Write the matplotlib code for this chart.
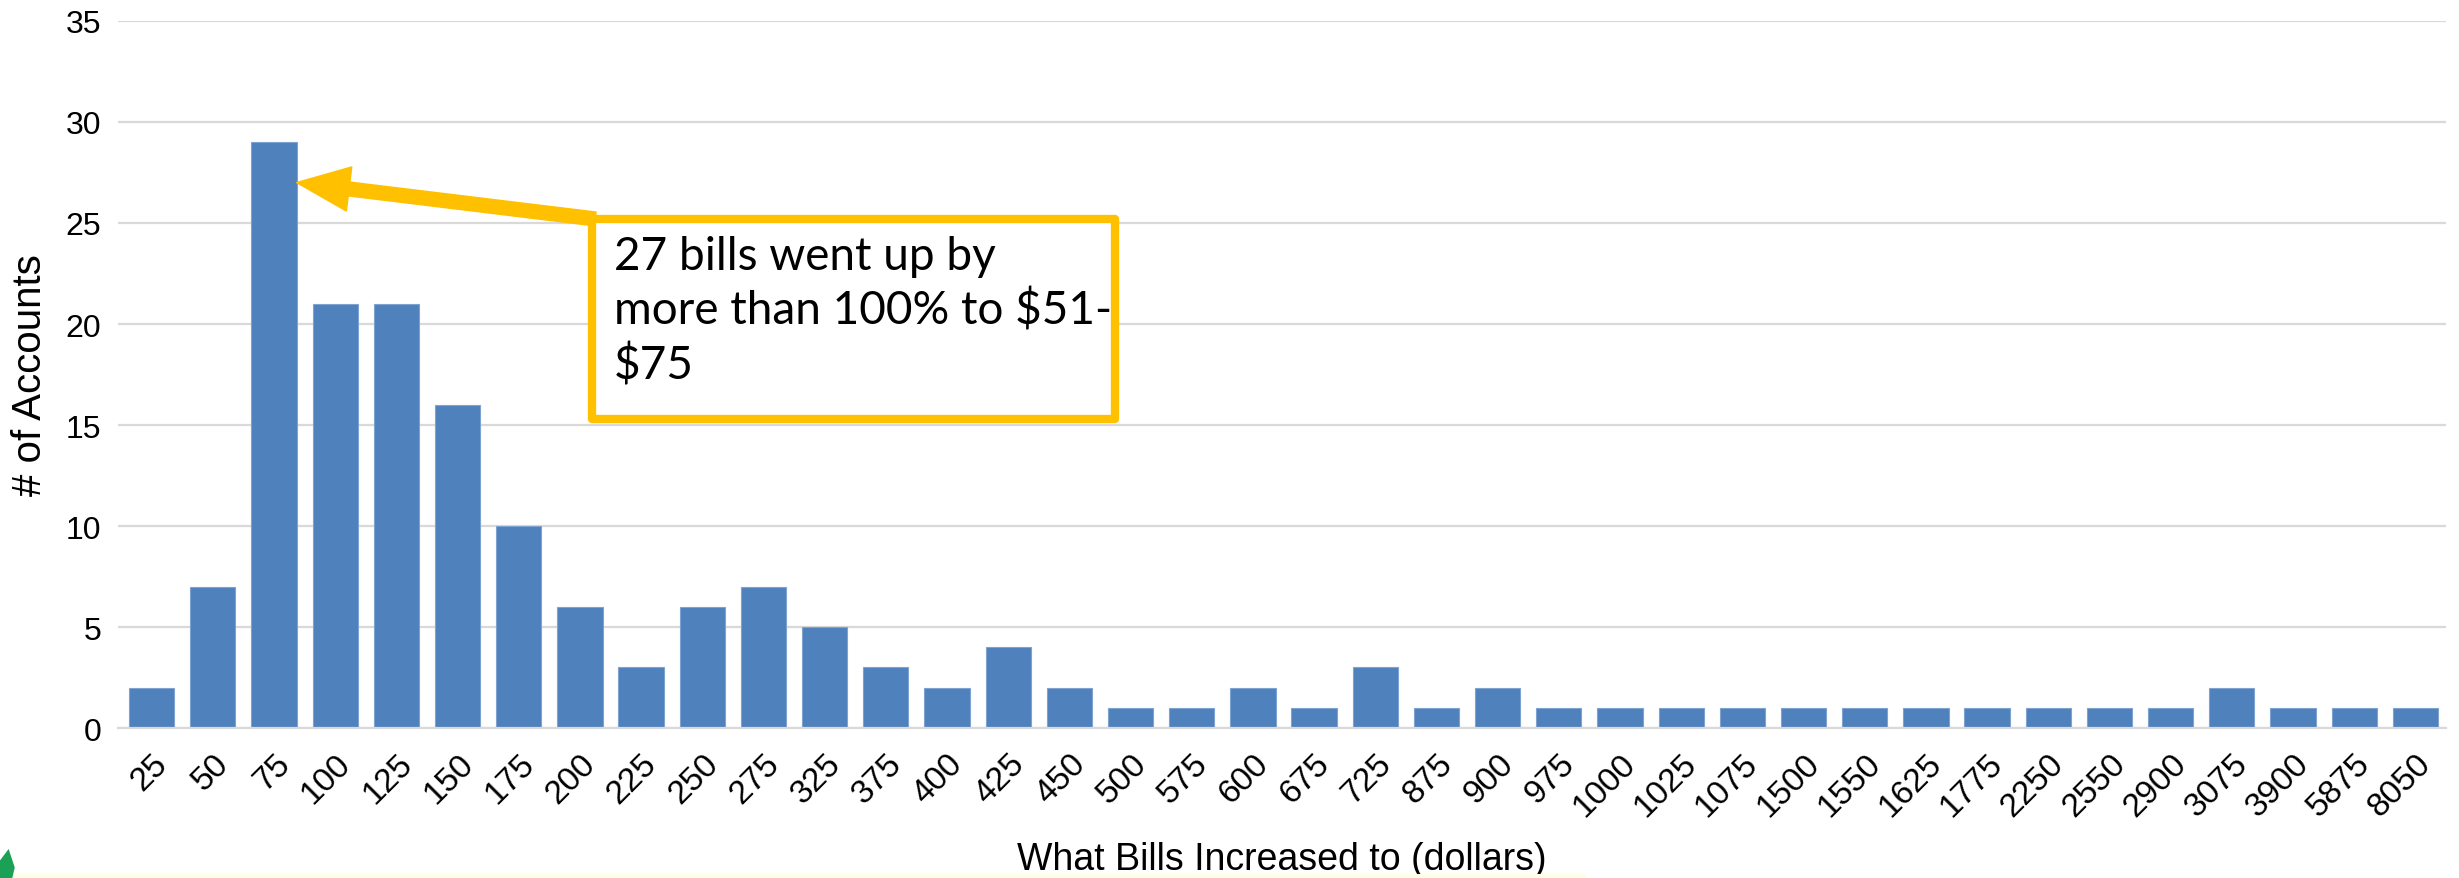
import matplotlib.pyplot as plt
from matplotlib.patches import Rectangle, FancyArrowPatch, Polygon

# bill amounts (upper bound of each $25 bin) and account counts
categories = ['25', '50', '75', '100', '125', '150', '175', '200', '225', '250',
              '275', '325', '375', '400', '425', '450', '500', '575', '600', '675',
              '725', '875', '900', '975', '1000', '1025', '1075', '1500', '1550',
              '1625', '1775', '2250', '2550', '2900', '3075', '3900', '5875', '8050']
counts = [2, 7, 29, 21, 21, 16, 10, 6, 3, 6,
          7, 5, 3, 2, 4, 2, 1, 1, 2, 1,
          3, 1, 2, 1, 1, 1, 1, 1, 1,
          1, 1, 1, 1, 1, 2, 1, 1, 1]
yticks = [0, 5, 10, 15, 20, 25, 30, 35]

note = "27 bills went up by\nmore than 100% to $51-\n$75"

fig = plt.figure(figsize=(24.59, 8.79), dpi=100)
ax = fig.add_axes([0.048, 0.1706, 0.9467, 0.8044])

x = list(range(len(categories)))
ax.bar(x, counts, width=0.74, color='#4F81BD', edgecolor='#7FA3D1', linewidth=0.8, zorder=2)

ax.set_xlim(-0.55, len(categories) - 0.5)
ax.set_ylim(0, 35)
ax.set_yticks(yticks)
ax.set_yticklabels([str(v) for v in yticks], fontsize=23, family=['Liberation Sans', 'DejaVu Sans'])
ax.set_xticks(x)
ax.set_xticklabels(categories, rotation=45, ha='right', rotation_mode='anchor',
                   fontsize=24, family=['Liberation Sans', 'DejaVu Sans'])
ax.tick_params(axis='x', length=0, pad=14)
ax.tick_params(axis='y', length=0, pad=12)

ax.grid(axis='y', color='#D9D9D9', linewidth=1.6, zorder=0)
for s in ['top', 'right', 'left']:
    ax.spines[s].set_visible(False)
ax.spines['bottom'].set_color('#D9D9D9')
ax.spines['bottom'].set_linewidth(1.6)

ax.set_ylabel('# of Accounts', fontsize=29, family=['Liberation Sans', 'DejaVu Sans'], labelpad=12)
ax.set_xlabel('What Bills Increased to (dollars)', fontsize=27,
              family=['Liberation Sans', 'DejaVu Sans'], labelpad=14)

# callout box and arrow
box = Rectangle((7.2, 15.3), 8.55, 9.9, facecolor='white', edgecolor='#FFC000',
                linewidth=6, zorder=4, joinstyle='round')
ax.add_patch(box)
ax.text(7.55, 24.4, note, fontsize=33, family=['Lato', 'DejaVu Sans'], va='top', ha='left',
        linespacing=1.3, zorder=5)
arrow = FancyArrowPatch((7.25, 25.2), (2.37, 27.0),
                        arrowstyle='simple,head_length=1.9,head_width=1.6,tail_width=0.5',
                        mutation_scale=20, color='#FFC000', zorder=3, shrinkA=0, shrinkB=0)
ax.add_patch(arrow)

# slide decoration at the bottom edge
fig.patches.append(Rectangle((0, 0), 0.645, 0.004, transform=fig.transFigure,
                             facecolor='#FFFDE8', edgecolor='none'))
fig.patches.append(Polygon([(0, 0), (0, 0.02), (0.0035, 0.033), (0.006, 0.012), (0.005, 0)],
                           closed=True, transform=fig.transFigure,
                           facecolor='#1BA155', edgecolor='none'))

fig.savefig('out.png', dpi=100)
